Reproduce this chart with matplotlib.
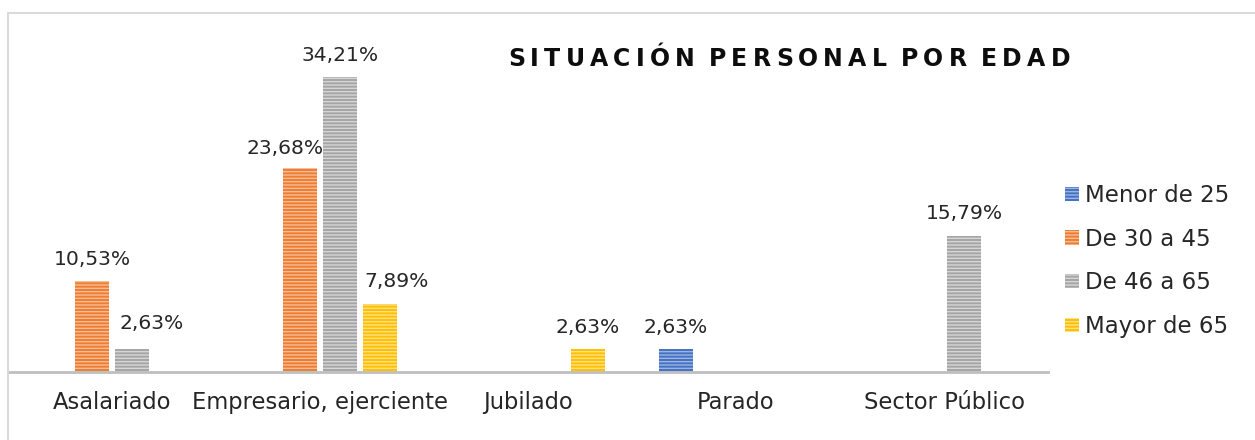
import matplotlib
matplotlib.use("Agg")
import matplotlib.pyplot as plt
from matplotlib.patches import Patch
from matplotlib.lines import Line2D
import numpy as np

categories = ["Asalariado", "Empresario, ejerciente", "Jubilado", "Parado", "Sector Público"]
series_names = ["Menor de 25", "De 30 a 45", "De 46 a 65", "Mayor de 65"]
menor_25 = [0, 0, 0, 2.63, 0]
de_30_45 = [10.53, 23.68, 0, 0, 0]
de_46_65 = [2.63, 34.21, 0, 0, 15.79]
mayor_65 = [0, 7.89, 2.63, 0, 0]
series_values = [menor_25, de_30_45, de_46_65, mayor_65]
colors = ["#4472C4", "#ED7D31", "#A5A5A5", "#FFC000"]
stripe_colors = ["#9DB4E0", "#F6BE98", "#D6D6D6", "#FFE08A"]
title = "SITUACIÓN PERSONAL POR EDAD"

# manual label nudges (points) for (series, category)
label_nudge = {(2, 0): (14, 3), (3, 1): (12, 0), (1, 1): (-11, -2)}

plt.rcParams['font.family'] = ['DejaVu Sans']
plt.rcParams['hatch.linewidth'] = 1.0

W, H = 1255, 440
fig = plt.figure(figsize=(W / 100, H / 100), dpi=100)
fig.patch.set_facecolor("white")

# outer border (top and left only visible)
fig.add_artist(Line2D([8 / W, 1254 / W], [(H - 13) / H, (H - 13) / H],
                      transform=fig.transFigure, color="#D9D9D9", linewidth=1.4))
fig.add_artist(Line2D([8 / W, 8 / W], [0, (H - 13) / H],
                      transform=fig.transFigure, color="#D9D9D9", linewidth=1.4))

ax = fig.add_axes([8 / W, (H - 372) / H, (1048 - 8) / W, 310 / H])
ax.set_xlim(-0.5, 4.5)
ax.set_ylim(0, 36)
for s in ["top", "right", "left"]:
    ax.spines[s].set_visible(False)
ax.spines["bottom"].set_color("#BFBFBF")
ax.spines["bottom"].set_linewidth(2.0)
ax.set_yticks([])
ax.set_xticks(range(len(categories)))
ax.set_xticklabels(categories, fontsize=16.3, color="#262626")
ax.tick_params(axis="x", length=0, pad=14)

x = np.arange(len(categories))
slot = 40 / 208
bw = 34 / 208
for i, (vals, c, sc) in enumerate(zip(series_values, colors, stripe_colors)):
    off = (i - 1.5) * slot
    for j, (xi, v) in enumerate(zip(x, vals)):
        if v <= 0:
            continue
        ax.bar(xi + off, v, width=bw, color=c, edgecolor=sc, hatch="-----",
               linewidth=0, zorder=2)
        dx, dy = label_nudge.get((i, j), (0, 0))
        ax.annotate(f"{v:.2f}".replace(".", ",") + "%", (xi + off, v),
                    xytext=(dx, 12 + dy), textcoords="offset points",
                    ha="center", va="baseline", fontsize=14.6, color="#262626")

# title with letter spacing, placed char by char
fig.canvas.draw()
renderer = fig.canvas.get_renderer()
tfs = 17
words = title.split(" ")
widths = []
for w in words:
    ws = []
    for ch in w:
        t = fig.text(0, 0, ch, fontsize=tfs, fontweight="bold")
        ws.append(t.get_window_extent(renderer).width)
        t.remove()
    widths.append(ws)
sum_w = sum(sum(ws) for ws in widths)
n_letter_gaps = sum(len(ws) - 1 for ws in widths)
n_word_gaps = len(words) - 1
target = 1070 - 508
# word gap ~ 2.75x letter gap
unit = (target - sum_w) / (n_letter_gaps + 2.75 * n_word_gaps)
letter_gap = unit
word_gap = 2.75 * unit
xpos = 508
for wi, (w, ws) in enumerate(zip(words, widths)):
    for ci, (ch, cw) in enumerate(zip(w, ws)):
        fig.text(xpos / W, (H - 66) / H, ch, ha="left", va="baseline",
                 fontsize=tfs, fontweight="bold", color="#0D0D0D")
        xpos += cw
        if ci < len(w) - 1:
            xpos += letter_gap
    xpos += word_gap

handles = [Patch(facecolor=c, edgecolor=sc, hatch="-----", linewidth=0)
           for c, sc in zip(colors, stripe_colors)]
leg = fig.legend(handles, series_names, loc="upper left",
                 bbox_to_anchor=(1065 / W, (H - 184) / H), frameon=False,
                 fontsize=16.5, handlelength=0.6, handleheight=0.6,
                 handletextpad=0.28, labelspacing=0.9, borderpad=0,
                 borderaxespad=0, labelcolor="#262626")

fig.savefig("out.png", dpi=100, facecolor="white")
